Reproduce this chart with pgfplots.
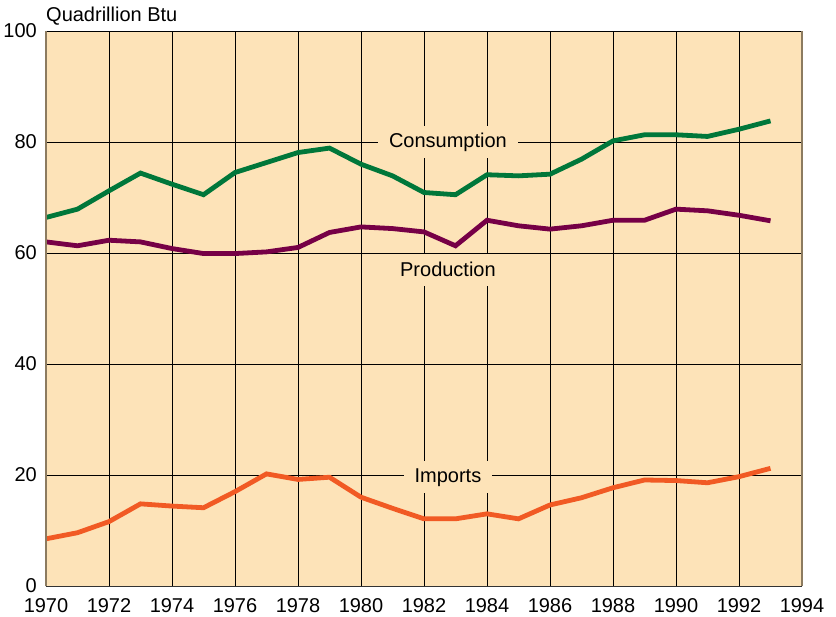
\documentclass[border=0pt]{standalone}
\usepackage{fontspec}
\setmainfont{Liberation Sans}
\usepackage{pgfplots}
\pgfplotsset{compat=1.18}
\usetikzlibrary{calc}
\definecolor{bgc}{HTML}{FDE3B8}
\definecolor{cons}{HTML}{00773A}
\definecolor{prod}{HTML}{760046}
\definecolor{imp}{HTML}{F15A24}
\definecolor{frame}{HTML}{8C7B60}
\begin{document}
\begin{tikzpicture}
\begin{axis}[
  scale only axis,
  width=756bp, height=555bp,
  xmin=1970, xmax=1994, ymin=0, ymax=100,
  xtick={1970,1972,...,1994},
  ytick={0,20,...,100},
  xticklabel style={/pgf/number format/1000 sep={}},
  /pgf/number format/assume math mode=true,
  ticklabel style={font=\fontsize{20bp}{22bp}\selectfont, inner sep=0pt},
  major tick length=0pt,
  xtick pos=bottom, ytick pos=left,
  grid=major,
  major grid style={black, line width=0.8bp},
  axis background/.style={fill=bgc},
  axis line style={draw=none},
  yticklabel style={xshift=-9bp},
  xticklabel style={yshift=-12bp},
  clip=false,
]
\addplot[cons, line width=4.8bp] coordinates {
(1970,66.4)(1971,67.9)(1972,71.2)(1973,74.4)(1974,72.4)(1975,70.5)(1976,74.5)(1977,76.3)(1978,78.1)(1979,78.9)(1980,76.0)(1981,73.9)(1982,70.9)(1983,70.5)(1984,74.1)(1985,73.9)(1986,74.2)(1987,76.9)(1988,80.2)(1989,81.3)(1990,81.3)(1991,81.0)(1992,82.3)(1993,83.8)};
\addplot[prod, line width=4.8bp] coordinates {
(1970,62.0)(1971,61.3)(1972,62.3)(1973,62.0)(1974,60.8)(1975,59.9)(1976,59.9)(1977,60.2)(1978,61.0)(1979,63.7)(1980,64.7)(1981,64.4)(1982,63.8)(1983,61.3)(1984,65.9)(1985,64.9)(1986,64.3)(1987,64.9)(1988,65.9)(1989,65.9)(1990,67.9)(1991,67.6)(1992,66.8)(1993,65.8)};
\addplot[imp, line width=4.8bp] coordinates {
(1970,8.5)(1971,9.6)(1972,11.6)(1973,14.8)(1974,14.4)(1975,14.1)(1976,17.0)(1977,20.2)(1978,19.2)(1979,19.6)(1980,16.0)(1981,14.0)(1982,12.1)(1983,12.1)(1984,13.0)(1985,12.1)(1986,14.6)(1987,15.9)(1988,17.7)(1989,19.1)(1990,19.0)(1991,18.6)(1992,19.7)(1993,21.2)};
\node[fill=bgc, inner xsep=11bp, minimum height=32bp, font=\fontsize{20bp}{22bp}\selectfont] at (axis cs:1982.76,80.0) {Consumption};
\node[fill=bgc, inner xsep=11bp, minimum height=32bp, font=\fontsize{20bp}{22bp}\selectfont] at (axis cs:1982.76,57.0) {Production};
\node[fill=bgc, inner xsep=11bp, minimum height=32bp, font=\fontsize{20bp}{22bp}\selectfont] at (axis cs:1982.76,19.6) {Imports};
\draw[frame, line width=1.5bp] (rel axis cs:0,0) -- (rel axis cs:0,1);
\draw[frame, line width=2bp] (rel axis cs:1,0) -- (rel axis cs:1,1);
\draw[black!80, line width=1bp] (rel axis cs:0,0) -- (rel axis cs:1,0);
\node[anchor=south west, inner sep=0pt, font=\fontsize{20bp}{22bp}\selectfont] at ([yshift=6bp]rel axis cs:0,1) {Quadrillion Btu};
\coordinate (sw) at (rel axis cs:0,0);
\coordinate (ne) at (rel axis cs:1,1);
\end{axis}
\pgfresetboundingbox
\path[use as bounding box] ($(sw)+(-46bp,-31bp)$) rectangle ($(ne)+(34bp,31bp)$);
\end{tikzpicture}
\end{document}
